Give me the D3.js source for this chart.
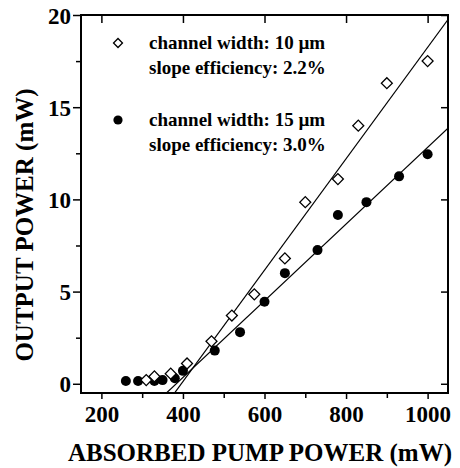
<!DOCTYPE html>
<html>
<head>
<meta charset="utf-8">
<script src="https://cdn.jsdelivr.net/npm/d3@7"></script>
<style>
  body { margin: 0; background: #fff; }
  text { font-family: "Liberation Serif", "Times New Roman", serif; font-weight: bold; fill: #000; }
</style>
</head>
<body>
<svg id="chart" width="460" height="468"></svg>
<script>
// channel width 10 um (open diamonds)
const pump10 = [310, 330, 370, 410, 470, 520, 575, 650, 700, 780, 830, 900, 1000];
const out10 = [0.2, 0.4, 0.55, 1.1, 2.3, 3.7, 4.85, 6.8, 9.85, 11.1, 14.0, 16.3, 17.5];
// channel width 15 um (filled circles)
const pump15 = [260, 290, 330, 350, 380, 400, 478, 540, 600, 650, 730, 780, 850, 930, 1000];
const out15 = [0.15, 0.15, 0.15, 0.2, 0.3, 0.7, 1.8, 2.8, 4.45, 6.0, 7.25, 9.15, 9.85, 11.25, 12.45];
// linear fits as drawn: threshold (mW) and slope (mW/mW)
const fitThreshold = [396, 383.5];
const fitSlope = [0.0302, 0.0208];

const xTicks = [200, 400, 600, 800, 1000];
const xMinor = [300, 500, 700, 900];
const yTicks = [0, 5, 10, 15, 20];
const yMinor = [2.5, 7.5, 12.5, 17.5];
const legendLines = [
    ["channel width: 10 \u00b5m", "slope efficiency: 2.2%"],
    ["channel width: 15 \u00b5m", "slope efficiency: 3.0%"]
];

const svg = d3.select("#chart");
const x = d3.scaleLinear().domain([150, 1050]).range([81, 448]);
const y = d3.scaleLinear().domain([-0.5, 20]).range([393, 15]);

svg.append("clipPath").attr("id", "plot-clip")
    .append("rect")
    .attr("x", x.range()[0]).attr("y", y.range()[1])
    .attr("width", x.range()[1] - x.range()[0])
    .attr("height", y.range()[0] - y.range()[1]);

// axes (ticks only, labels restyled)
function styleAxis(g) {
    g.select(".domain").remove();
    g.selectAll(".tick line").attr("stroke", "#000").attr("stroke-width", 1.5);
}

svg.append("g").attr("transform", "translate(0,393)")
    .call(d3.axisBottom(x).tickValues(xMinor).tickSize(5).tickFormat(""))
    .call(styleAxis);
const xAxis = svg.append("g").attr("transform", "translate(0,393)")
    .call(d3.axisBottom(x).tickValues(xTicks).tickSize(6).tickFormat(d3.format("d")))
    .call(styleAxis);
xAxis.selectAll("text").attr("y", 28.5).attr("dy", null)
    .style("font-size", "23px");

svg.append("g").attr("transform", "translate(81,0)")
    .call(d3.axisLeft(y).tickValues(yMinor).tickSize(5).tickFormat(""))
    .call(styleAxis);
const yAxis = svg.append("g").attr("transform", "translate(81,0)")
    .call(d3.axisLeft(y).tickValues(yTicks).tickSize(8).tickFormat(d3.format("d")))
    .call(styleAxis);
yAxis.selectAll("text").attr("x", -10).attr("dy", "0.35em")
    .style("font-size", "23px");

svg.append("g").attr("transform", "translate(0,15)")
    .call(d3.axisTop(x).tickValues(xTicks).tickSize(-8).tickFormat(""))
    .call(styleAxis);
svg.append("g").attr("transform", "translate(448,0)")
    .call(d3.axisRight(y).tickValues(yTicks).tickSize(-7).tickFormat(""))
    .call(styleAxis);

// fit lines
const fitLine = d3.line().x(d => x(d[0])).y(d => y(d[1]));
fitThreshold.forEach((th, i) => {
    const pts = [x.domain()[0], x.domain()[1]].map(p => [p, fitSlope[i] * (p - th)]);
    svg.append("path")
        .attr("clip-path", "url(#plot-clip)")
        .attr("d", fitLine(pts))
        .attr("fill", "none")
        .attr("stroke", "#000")
        .attr("stroke-width", 1.2);
});

// data points
svg.append("g").selectAll("circle")
    .data(pump15.map((p, i) => [p, out15[i]]))
    .join("circle")
    .attr("cx", d => x(d[0]))
    .attr("cy", d => y(d[1]))
    .attr("r", 5)
    .attr("fill", "#000");

const diamond = d3.symbol().type(d3.symbolSquare).size(60);
svg.append("g").selectAll("path")
    .data(pump10.map((p, i) => [p, out10[i]]))
    .join("path")
    .attr("d", diamond)
    .attr("transform", d => `translate(${x(d[0])},${y(d[1])}) rotate(45)`)
    .attr("fill", "#fff")
    .attr("stroke", "#000")
    .attr("stroke-width", 1.3);

// frame
svg.append("rect")
    .attr("x", 81).attr("y", 15)
    .attr("width", 367).attr("height", 378)
    .attr("fill", "none")
    .attr("stroke", "#000")
    .attr("stroke-width", 2);

// legend
const legend = svg.append("g");
legend.append("path")
    .attr("d", d3.symbol().type(d3.symbolSquare).size(40))
    .attr("transform", "translate(118,43) rotate(45)")
    .attr("fill", "#fff").attr("stroke", "#000").attr("stroke-width", 1.3);
legend.append("circle")
    .attr("cx", 118).attr("cy", 120).attr("r", 4.6)
    .attr("fill", "#000");

legendLines.forEach((lines, i) => {
    lines.forEach((t, j) => {
        legend.append("text")
            .attr("x", 149)
            .attr("y", 49 + i * 77 + j * 24.5)
            .style("font-size", "19px")
            .text(t);
    });
});

// axis titles
svg.append("text")
    .attr("x", 260).attr("y", 461)
    .attr("text-anchor", "middle")
    .style("font-size", "25px")
    .text("ABSORBED PUMP POWER (mW)");

svg.append("text")
    .attr("transform", "translate(33,225) rotate(-90)")
    .attr("text-anchor", "middle")
    .style("font-size", "25px")
    .text("OUTPUT POWER (mW)");
</script>
</body>
</html>
